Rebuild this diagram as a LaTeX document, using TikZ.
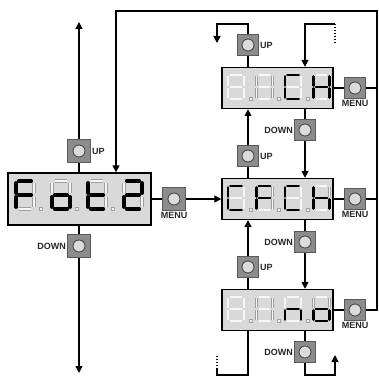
\documentclass[tikz,border=0pt]{standalone}
\usepackage{fontspec}
\setsansfont{Liberation Sans}
\usetikzlibrary{arrows.meta}

\definecolor{dispgray}{gray}{0.85}
\definecolor{btngray}{gray}{0.55}
\definecolor{btnedge}{gray}{0.35}
\definecolor{knobgray}{gray}{0.86}
\definecolor{seggray}{gray}{0.62}

% segment end points, a digit is 1 wide and 2 high
\def\sega{(0.14,0) -- (0.86,0)}
\def\segb{(1,0.12) -- (1,0.88)}
\def\segc{(1,1.12) -- (1,1.88)}
\def\segd{(0.14,2) -- (0.86,2)}
\def\sege{(0,1.12) -- (0,1.88)}
\def\segf{(0,0.12) -- (0,0.88)}
\def\segg{(0.14,1) -- (0.86,1)}
\def\segz{(0,0)}

% #1 origin, #2 digit width, #3 half height, #4 pitch, #5 lit segments of the four digits
\newcommand{\segdisplay}[5]{%
  \foreach \lit [count=\k from 0] in {#5}{%
    \begin{scope}[shift={#1}, xshift=\k*#4, x=#2pt, y=-#3pt]
      \foreach \s in {a,b,c,d,e,f,g}{%
        \edef\segpath{\csname seg\s\endcsname}%
        \draw[dimseg] \segpath;}
      \ifnum\k<3 \draw[seggray, fill=white!80!dispgray, line width=0.5pt] (1.3,2.08) rectangle ++(3pt,3pt);\fi
      \foreach \s in \lit{%
        \edef\segpath{\csname seg\s\endcsname}%
        \draw[litseg] \segpath;}
    \end{scope}}}

\tikzset{
  display/.style={draw, line width=1.4pt, fill=dispgray, minimum width=111pt, minimum height=41pt, inner sep=0pt},
  button/.style={draw=btnedge, line width=0.8pt, fill=btngray, minimum size=21pt, inner sep=0pt,
    path picture={\draw[line width=0.8pt, draw=btnedge!70!black, fill=knobgray] (path picture bounding box.center) circle (6pt);}},
  keylbl/.style={font=\sffamily\bfseries\fontsize{9}{9}\selectfont, inner sep=1pt, text=black!85},
  wire/.style={line width=1.5pt},
  arr/.style={-{Triangle[length=7pt,width=7pt]}},
  dimseg/.style={draw=seggray, line width=0.5pt, double=white!80!dispgray, double distance=1.8pt},
  litseg/.style={draw=black, line width=2.6pt, line cap=round},
}

\begin{document}
\begin{tikzpicture}[x=1pt, y=-1pt]
  \useasboundingbox (0,0) rectangle (379,377);

  % displays
  \node[display, minimum width=143pt, minimum height=52pt] (fot) at (79.5,199) {};
  \node[display] (chx) at (277.5,88) {};
  \node[display] (cfc) at (277.5,199) {};
  \node[display] (nos) at (277.5,310) {};

  \begin{scope}[litseg/.append style={line width=3.2pt}, dimseg/.append style={double distance=2.3pt}]
    \segdisplay{(16,181)}{18}{14}{36}{{a,e,f,g},{c,d,e,g},{d,e,f,g},{a,b,d,e,g}}
  \end{scope}
  \segdisplay{(228,75)}{16}{12}{28.5}{{z},{z},{a,d,e,f},{b,c,e,f,g}}
  \segdisplay{(228,186)}{16}{12}{28.5}{{a,d,e,f},{a,e,f,g},{a,d,e,f},{c,e,f,g}}
  \segdisplay{(228,297)}{16}{12}{28.5}{{z},{z},{c,e,g},{c,d,e,g}}

  % keys
  \node[button, minimum size=23pt] (upL) at (79,151) {};
  \node[button, minimum size=23pt] (dnL) at (79,246) {};
  \node[button, minimum size=23pt] (mnuF) at (174,199) {};
  \node[button] (upA) at (248,45) {};
  \node[button] (upB) at (248,156) {};
  \node[button] (upC) at (248,267) {};
  \node[button] (dnA) at (305,130) {};
  \node[button] (dnB) at (305,242) {};
  \node[button] (dnC) at (305,352) {};
  \node[button] (mnuC) at (355,88) {};
  \node[button] (mnuM) at (355,199) {};
  \node[button] (mnuN) at (355,310) {};

  \node[keylbl, anchor=west] (upLt) at (upL.east) {UP};
  \node[keylbl, anchor=east] (dnLt) at (dnL.west) {DOWN};
  \node[keylbl, anchor=north] (mnuFt) at (mnuF.south) {MENU};
  \node[keylbl, anchor=west] (upAt) at (upA.east) {UP};
  \node[keylbl, anchor=west] (upBt) at (upB.east) {UP};
  \node[keylbl, anchor=west] (upCt) at (upC.east) {UP};
  \node[keylbl, anchor=east] (dnAt) at (dnA.west) {DOWN};
  \node[keylbl, anchor=east] (dnBt) at (dnB.west) {DOWN};
  \node[keylbl, anchor=east] (dnCt) at (dnC.west) {DOWN};
  \node[keylbl, anchor=north] (mnuCt) at (mnuC.south) {MENU};
  \node[keylbl, anchor=north] (mnuMt) at (mnuM.south) {MENU};
  \node[keylbl, anchor=north] (mnuNt) at (mnuN.south) {MENU};

  \coordinate (tipUp) at (79,22);
  \coordinate (tipDn) at (79,373);
  \coordinate (ringNE) at (377,11);
  \coordinate (ringNW) at (116,11);
  \coordinate (bendA) at (217,24);
  \coordinate (tipA) at (217,43);
  \coordinate (bendB) at (335,24);
  \coordinate (endB) at (335,43);
  \coordinate (bendC) at (217,375);
  \coordinate (endC) at (217,355);
  \coordinate (bendD) at (335,375);
  \coordinate (tipD) at (335,355);

  % left column
  \draw[wire] (fot.north -| upL) -- (upL.south);
  \draw[wire, arr] (upL.north) -- (tipUp);
  \draw[wire] (fot.south -| dnL) -- (dnL.north);
  \draw[wire, arr] (dnL.south) -- (tipDn);
  \draw[wire] (fot.east) -- (mnuF.west);
  \draw[wire, arr] (mnuF.east) -- (cfc.west);

  % menu ring back to the first display
  \draw[wire, arr] (mnuN.east) -| (ringNE) -- (ringNW) -- (ringNW |- fot.north);
  \draw[wire] (chx.east) -- (mnuC.west);
  \draw[wire] (mnuC.east) -- (mnuC.east -| ringNE);
  \draw[wire] (cfc.east) -- (mnuM.west);
  \draw[wire] (mnuM.east) -- (mnuM.east -| ringNE);
  \draw[wire] (nos.east) -- (mnuN.west);

  % top
  \draw[wire] (chx.north -| upA) -- (upA.south);
  \draw[wire, arr] (upA.north) |- (bendA) -- (tipA);
  \draw[wire, arr] (bendB) -| (chx.north -| dnA);
  \draw[wire, dash pattern=on 1.5pt off 1.5pt] (bendB) -- (endB);

  % between the displays
  \draw[wire] (chx.south -| dnA) -- (dnA.north);
  \draw[wire, arr] (dnA.south) -- (cfc.north -| dnA);
  \draw[wire] (cfc.north -| upB) -- (upB.south);
  \draw[wire, arr] (upB.north) -- (chx.south -| upB);
  \draw[wire] (cfc.south -| dnB) -- (dnB.north);
  \draw[wire, arr] (dnB.south) -- (nos.north -| dnB);
  \draw[wire] (nos.north -| upC) -- (upC.south);
  \draw[wire, arr] (upC.north) -- (cfc.south -| upC);

  % bottom
  \draw[wire] (nos.south -| upC) |- (bendC) -- ++(0,-6);
  \draw[wire, dash pattern=on 1.5pt off 1.5pt] (bendC) ++(0,-6) -- (endC);
  \draw[wire] (nos.south -| dnC) -- (dnC.north);
  \draw[wire, arr] (dnC.south) |- (bendD) -- (tipD);
\end{tikzpicture}
\end{document}
